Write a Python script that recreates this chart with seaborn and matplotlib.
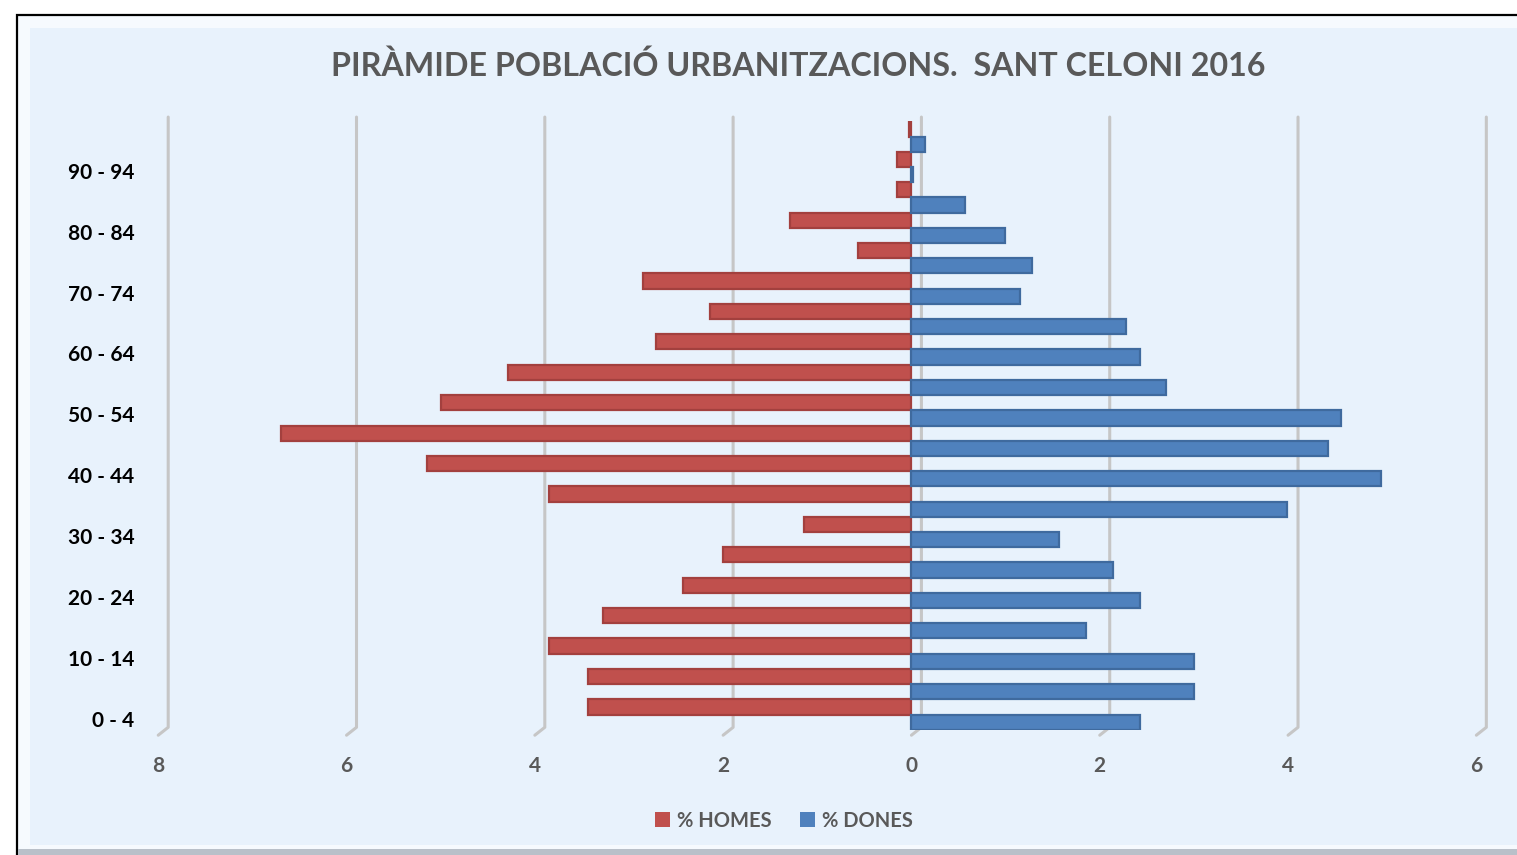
import pandas as pd
import matplotlib
matplotlib.use('Agg')
import matplotlib.pyplot as plt
import seaborn as sns
from matplotlib.patches import Rectangle
from matplotlib.transforms import ScaledTranslation

# age groups, bottom to top
ages = ['0 - 4', '5 - 9', '10 - 14', '15 - 19', '20 - 24', '25 - 29', '30 - 34',
        '35 - 39', '40 - 44', '45 - 49', '50 - 54', '55 - 59', '60 - 64', '65 - 69',
        '70 - 74', '75 - 79', '80 - 84', '85 - 89', '90 - 94', '95 - 99']
homes = [3.43, 3.43, 3.85, 3.28, 2.43, 2.00, 1.14, 3.85, 5.14, 6.70,
         5.00, 4.28, 2.71, 2.14, 2.85, 0.57, 1.29, 0.15, 0.15, 0.03]
dones = [2.43, 3.00, 3.00, 1.85, 2.43, 2.14, 1.57, 3.99, 4.99, 4.42,
         4.56, 2.70, 2.43, 2.28, 1.15, 1.28, 0.99, 0.57, 0.02, 0.14]
x_ticks = [-8, -6, -4, -2, 0, 2, 4, 6]

title = 'PIRÀMIDE POBLACIÓ URBANITZACIONS.  SANT CELONI 2016'
red = '#C0504D'
blue = '#4F81BD'
bg = '#E8F2FC'
grey_txt = '#595959'

df = pd.DataFrame({
    'edat': ages * 2,
    'sexe': ['% HOMES'] * len(ages) + ['% DONES'] * len(ages),
    'valor': [-v for v in homes] + dones,
})

sns.set_style('white')
plt.rcParams['font.family'] = ['Lato', 'DejaVu Sans']

fig = plt.figure(figsize=(15.17, 8.55), dpi=100)
fig.patch.set_facecolor('white')

# chart panel
fig.add_artist(Rectangle((17 / 1517, -0.02), 1.0, 1.02 - 15 / 855, transform=fig.transFigure,
                         facecolor='#F6FAFE', edgecolor='black', linewidth=1.6, zorder=-3))
fig.add_artist(Rectangle((30 / 1517, 10 / 855), 1.0, 1 - 38 / 855, transform=fig.transFigure,
                         facecolor=bg, edgecolor='none', zorder=-2))
fig.add_artist(Rectangle((18 / 1517, 0), 1.0, 6 / 855, transform=fig.transFigure,
                         facecolor='#B9C0C9', edgecolor='none', zorder=-2))

ax = fig.add_axes([0.1043, 0.1465, 0.8689, 0.7116])
ax.set_facecolor('none')

order = ages[::-1]
sns.barplot(data=df, x='valor', y='edat', hue='sexe', order=order,
            hue_order=['% HOMES', '% DONES'], palette=[red, blue], saturation=1,
            orient='h', width=1.0, dodge=True, errorbar=None, ax=ax,
            edgecolor='none', linewidth=0, zorder=2)

for bar in ax.patches:
    fc = matplotlib.colors.to_hex(bar.get_facecolor()).upper()
    if fc == red:
        bar.set_edgecolor('#A3403E')
    elif fc == blue:
        bar.set_edgecolor('#3F6A9E')
    bar.set_linewidth(1.6)

ax.set_xlim(-8, 6)
ax.set_ylim(len(ages) - 0.5, -0.5)

# 3D-like gridlines
depth = 0.106
trans = ax.get_xaxis_transform()
for t in x_ticks:
    ax.plot([t + depth, t + depth, t], [1.007, 0.004, -0.009], transform=trans,
            color='#C6C6C6', linewidth=2.2, clip_on=False, zorder=0.5,
            solid_capstyle='round', solid_joinstyle='round')

ax.set_xticks(x_ticks)
ax.set_xticklabels([str(abs(t)) for t in x_ticks], fontsize=15, fontweight='bold', color=grey_txt)
ax.set_yticks(range(len(order)))
ax.set_yticklabels([a if ages.index(a) % 2 == 0 else '' for a in order],
                   fontsize=15, fontweight='bold', color='black')
ax.tick_params(axis='x', length=0, pad=19)
ax.tick_params(axis='y', length=0, pad=17)
shift = ScaledTranslation(0, -4 / 100, fig.dpi_scale_trans)
for lab in ax.get_yticklabels():
    lab.set_transform(lab.get_transform() + shift)
ax.set_xlabel('')
ax.set_ylabel('')
sns.despine(ax=ax, left=True, bottom=True)

fig.text(0.526, 0.923, title, ha='center', va='center', fontsize=23.2,
         fontweight='bold', color=grey_txt)

handles, labels = ax.get_legend_handles_labels()
ax.legend(handles, labels, loc='center', bbox_to_anchor=(0.517, 0.04),
          bbox_transform=fig.transFigure, ncol=2, frameon=False,
          handlelength=0.75, handleheight=0.75, handletextpad=0.35, columnspacing=1.4,
          prop={'size': 14.5, 'weight': 'bold'}, labelcolor=grey_txt)
for h in ax.get_legend().legend_handles:
    h.set_edgecolor('none')

fig.savefig('out.png', dpi=100)
